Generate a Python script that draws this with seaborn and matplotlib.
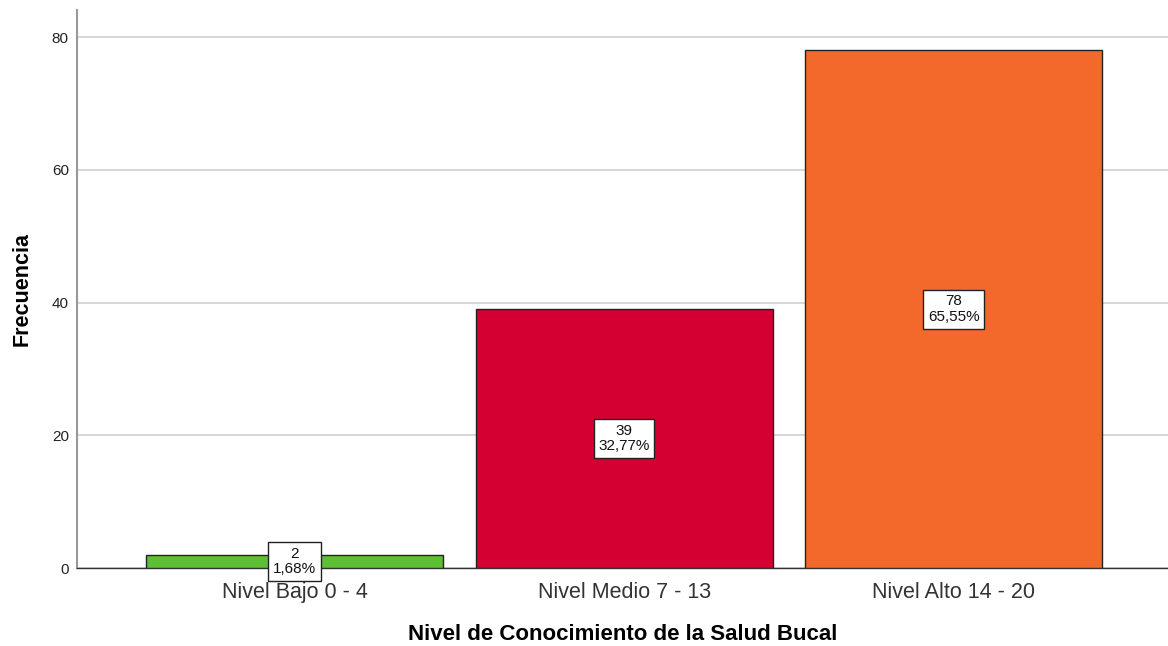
import matplotlib
matplotlib.use("Agg")
import matplotlib.pyplot as plt
import seaborn as sns
import pandas as pd

categorias = ["Nivel Bajo 0 - 4", "Nivel Medio 7 - 13", "Nivel Alto 14 - 20"]
frecuencias = [2, 39, 78]
porcentajes = ["1,68%", "32,77%", "65,55%"]
colores = ["#5DC034", "#D50032", "#F2692B"]

df = pd.DataFrame({"nivel": categorias, "frecuencia": frecuencias})

sns.set_style("white")
plt.rcParams["font.family"] = ["Liberation Sans", "DejaVu Sans"]

fig = plt.figure(figsize=(11.68, 6.46), dpi=100)
ax = fig.add_axes([0.066, 0.1207, 0.934, 0.864])

sns.barplot(data=df, x="nivel", y="frecuencia", hue="nivel", palette=colores,
            saturation=1, width=0.9, edgecolor="#222222", linewidth=1,
            legend=False, ax=ax, zorder=3)

ax.set_ylim(0, 84.1)
ax.set_xlim(-0.66, 2.65)
ax.set_yticks([0, 20, 40, 60, 80])
ax.yaxis.grid(True, color="#CFCFCF", linewidth=1.2, zorder=0)
ax.set_axisbelow(True)

for s in ["top", "right"]:
    ax.spines[s].set_visible(False)
ax.spines["left"].set_color("#999999")
ax.spines["left"].set_linewidth(1.5)
ax.spines["bottom"].set_color("#333333")
ax.spines["bottom"].set_linewidth(1)

ax.tick_params(axis="y", length=0, labelsize=11, labelcolor="#222222", pad=6)
ax.tick_params(axis="x", length=0, labelsize=15.5, labelcolor="#333333", pad=10)

ax.set_xlabel("Nivel de Conocimiento de la Salud Bucal", fontsize=16,
              fontweight="bold", color="black", labelpad=15)
ax.set_ylabel("Frecuencia", fontsize=15.5, fontweight="bold", color="black",
              labelpad=14)

for i, (f, p) in enumerate(zip(frecuencias, porcentajes)):
    ax.text(i, f / 2, f"{f}\n{p}", ha="center", va="center", fontsize=11,
            color="#111111", linespacing=1.15, zorder=5,
            bbox=dict(boxstyle="square,pad=0.3", facecolor="white",
                      edgecolor="#222222", linewidth=1))

fig.savefig("out.png", dpi=100)
